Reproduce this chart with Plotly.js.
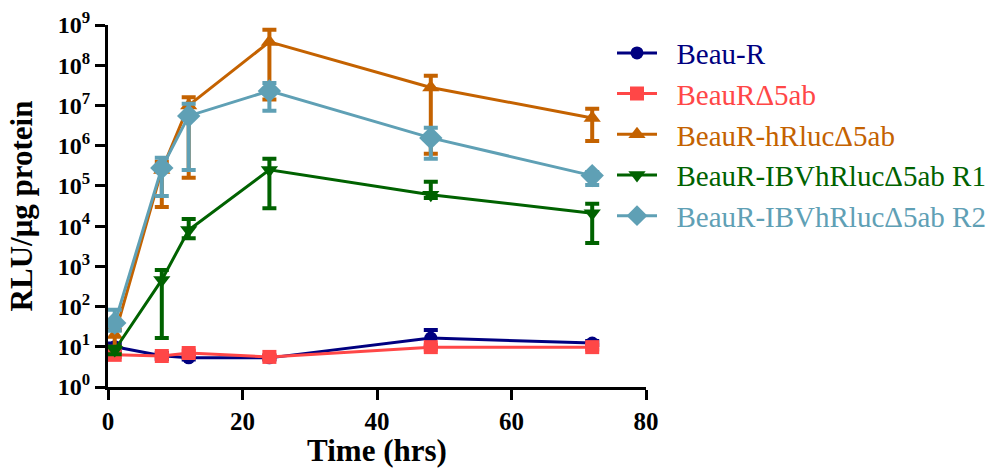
<!DOCTYPE html>
<html>
<head>
<meta charset="utf-8">
<script src="https://cdn.plot.ly/plotly-3.0.1.min.js"></script>
<style>
  html, body { margin: 0; padding: 0; background: #fff; }
  #chart { width: 994px; height: 468px; }
</style>
</head>
<body>
<div id="chart"></div>
<script>
// Time points (hours post infection)
const times = [1, 8, 12, 24, 48, 72];

// Mean luciferase activity (RLU/µg protein) and upper/lower error-bar ends
const beauR     = [10, 6, 5.3, 5.3, 16.5, 12.4];
const beauRHi   = [12, 7, 6, 6, 26, 14];
const beauRLo   = [8, 5, 4.8, 4.8, 10, 11];

const beauRd5   = [6.3, 5.9, 7, 5.6, 9.8, 9.8];
const beauRd5Hi = [7, 6.5, 8, 6.2, 11, 11];
const beauRd5Lo = [5.6, 5.3, 6.2, 5, 8.5, 8.5];

const hRluc     = [19.6, 2.5e5, 1.0e7, 3.8e8, 2.8e7, 4.9e6];
const hRlucHi   = [26, 4.0e5, 1.6e7, 7.6e8, 5.5e7, 8.3e6];
const hRlucLo   = [10, 3.0e4, 1.6e5, 1.4e7, 6.3e5, 1.3e6];

const ibvR1     = [8.3, 460, 8000, 2.5e5, 6.0e4, 2.1e4];
const ibvR1Hi   = [10, 810, 1.5e4, 4.7e5, 1.26e5, 3.6e4];
const ibvR1Lo   = [6.5, 16.6, 5000, 2.8e4, 5.0e4, 3.8e3];

const ibvR2     = [39, 2.8e5, 5.5e6, 2.3e7, 1.56e6, 1.8e5];
const ibvR2Hi   = [83, 5.0e5, 1.1e7, 3.6e7, 2.8e6, 2.2e5];
const ibvR2Lo   = [25, 5.6e4, 2.5e5, 7.4e6, 4.7e5, 1.05e5];

const seriesNames = ['Beau-R', 'BeauR\u03945ab', 'BeauR-hRluc\u03945ab',
                     'BeauR-IBVhRluc\u03945ab R1', 'BeauR-IBVhRluc\u03945ab R2'];

// Y tick labels: powers of ten
const yTickVals = [1, 10, 100, 1e3, 1e4, 1e5, 1e6, 1e7, 1e8, 1e9];
const yTickText = ['10<sup>0</sup>', '10<sup>1</sup>', '10<sup>2</sup>', '10<sup>3</sup>', '10<sup>4</sup>',
                   '10<sup>5</sup>', '10<sup>6</sup>', '10<sup>7</sup>', '10<sup>8</sup>', '10<sup>9</sup>'];
const xTickVals = [0, 20, 40, 60, 80];
const xTickText = ['0', '20', '40', '60', '80'];

const colors  = ['#000080', '#FF4747', '#C46200', '#006200', '#5FA0B5'];
const symbols = ['circle', 'square', 'triangle-up', 'triangle-down', 'diamond'];
const sizes   = [13, 14, 15, 15, 18];

const means = [beauR, beauRd5, hRluc, ibvR1, ibvR2];
const highs = [beauRHi, beauRd5Hi, hRlucHi, ibvR1Hi, ibvR2Hi];
const lows  = [beauRLo, beauRd5Lo, hRlucLo, ibvR1Lo, ibvR2Lo];

const traces = means.map((m, i) => ({
  type: 'scatter',
  mode: 'lines+markers',
  x: times,
  y: m,
  name: '<span style="color:' + colors[i] + '">\u00a0\u00a0' + seriesNames[i] + '</span>',
  legendgroup: 'g' + i,
  line: { color: colors[i], width: 3 },
  marker: { color: colors[i], symbol: symbols[i], size: sizes[i], line: { width: 0 } },
  error_y: {
    type: 'data',
    symmetric: false,
    array: highs[i].map((h, k) => h - m[k]),
    arrayminus: lows[i].map((l, k) => m[k] - l),
    color: colors[i],
    thickness: 4,
    width: 7
  }
}));

const serif = 'Liberation Serif';
const bold = s => '<b>' + s + '</b>';
const plotW = 994 - 108; // paper width with zero right margin

const layout = {
  width: 994,
  height: 468,
  margin: { l: 108, r: 0, t: 25, b: 81 },
  paper_bgcolor: '#ffffff',
  plot_bgcolor: '#ffffff',
  showlegend: true,
  font: { family: serif, color: '#000' },
  xaxis: {
    domain: [0, 538 / plotW],
    range: [0, 80],
    tickmode: 'array',
    tickvals: xTickVals,
    ticktext: xTickText.map(bold),
    ticks: 'outside',
    ticklen: 10,
    tickwidth: 3,
    tickcolor: '#000',
    showline: true,
    linewidth: 3,
    linecolor: '#000',
    showgrid: false,
    zeroline: false,
    tickfont: { family: serif, size: 25, color: '#000' },
    title: { text: bold('Time (hrs)'), font: { family: serif, size: 31, color: '#000' }, standoff: 10 }
  },
  yaxis: {
    type: 'log',
    range: [0, 9],
    tickmode: 'array',
    tickvals: yTickVals,
    ticktext: yTickText.map(bold),
    ticks: 'outside',
    ticklen: 10,
    tickwidth: 3,
    tickcolor: '#000',
    showline: true,
    linewidth: 3,
    linecolor: '#000',
    showgrid: false,
    zeroline: false,
    tickfont: { family: serif, size: 24, color: '#000' },
    title: { text: bold('RLU/\u03bcg protein'), font: { family: serif, size: 31, color: '#000' }, standoff: 16 }
  },
  legend: {
    x: (612 - 108) / plotW,
    xanchor: 'left',
    y: 0.993,
    yanchor: 'top',
    traceorder: 'grouped',
    tracegroupgap: 0,
    font: { family: serif, size: 29 },
    bgcolor: 'rgba(0,0,0,0)',
    itemwidth: 40
  }
};

Plotly.newPlot('chart', traces, layout, { displayModeBar: false, staticPlot: true });
</script>
</body>
</html>
